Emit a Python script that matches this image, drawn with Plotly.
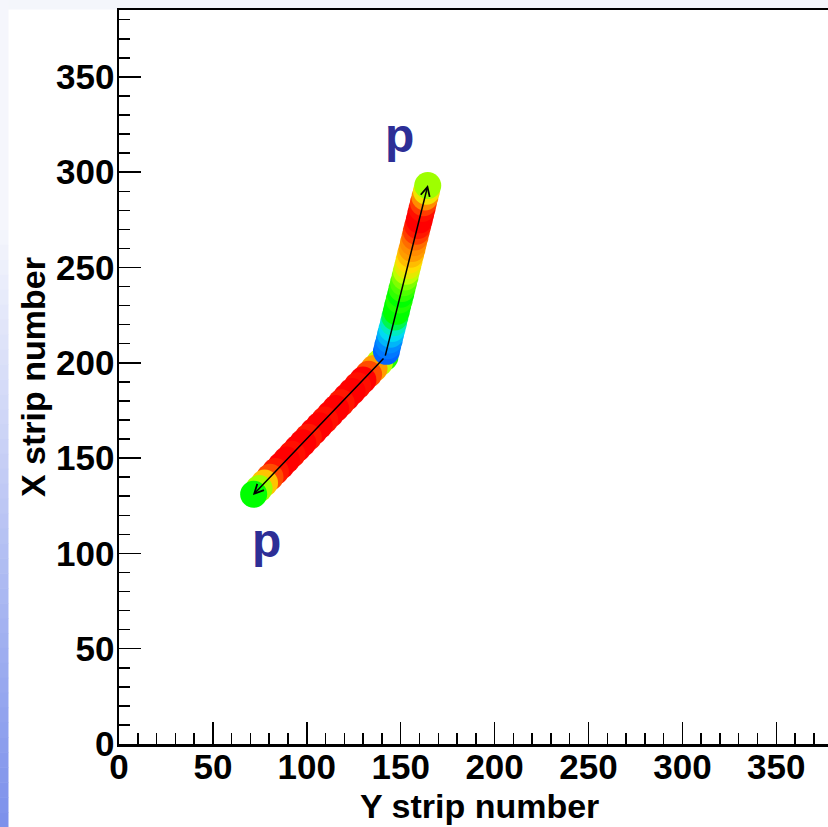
import plotly.graph_objects as go

# ---- data: track hits (Y strip, X strip, relative charge) ----
low_y_strip = [141.6, 138.7, 135.8, 132.9, 129.9, 127.0, 124.1, 121.2, 118.3, 115.4,
               112.5, 109.6, 106.6, 103.7, 100.8, 97.9, 95.0, 92.1, 89.2, 86.3,
               83.3, 80.4, 77.5, 74.6, 71.7]
low_x_strip = [203, 200, 197, 194, 191, 188, 185, 182, 179, 176,
               173, 170, 167, 164, 161, 158, 155, 152, 149, 146,
               143, 140, 137, 134, 131]
low_charge = [0.52, 0.62, 0.8, 0.9, 1.0, 0.98, 1.0, 1.0, 0.97, 1.0,
              1.0, 0.98, 1.0, 1.0, 0.97, 1.0, 1.0, 0.98, 1.0, 1.0,
              0.97, 0.9, 0.75, 0.6, 0.5]

up_y_strip = [142.4, 143.1, 143.9, 144.6, 145.4, 146.2, 146.9, 147.7, 148.4, 149.2,
              150.0, 150.7, 151.5, 152.3, 153.0, 153.8, 154.5, 155.3, 156.1, 156.8,
              157.6, 158.3, 159.1, 159.9, 160.6, 161.4, 162.1, 162.9, 163.7, 164.4]
up_x_strip = [206, 209, 212, 215, 218, 221, 224, 227, 230, 233,
              236, 239, 242, 245, 248, 251, 254, 257, 260, 263,
              266, 269, 272, 275, 278, 281, 284, 287, 290, 293]
up_charge = [0.1, 0.15, 0.2, 0.27, 0.33, 0.38, 0.45, 0.5, 0.5, 0.52,
             0.5, 0.53, 0.55, 0.58, 0.62, 0.68, 0.72, 0.76, 0.8, 0.82,
             0.86, 0.92, 0.97, 1.0, 1.0, 0.98, 0.92, 0.82, 0.7, 0.6]

# fitted track: end points and vertex
vertex = (141.6, 203.0)
track_ends = [(71.3, 130.6), (164.5, 293.3)]

# particle labels
label_text = ["p", "p"]
label_y_strip = [149.6, 78.3]
label_x_strip = [319.5, 107.0]

x_ticks = [0, 50, 100, 150, 200, 250, 300, 350]
y_ticks = [0, 50, 100, 150, 200, 250, 300, 350]

# ---- style ----
colorscale = [
    [0.0, "rgb(0,60,255)"],
    [0.2, "rgb(0,140,255)"],
    [0.35, "rgb(0,230,240)"],
    [0.5, "rgb(0,255,0)"],
    [0.62, "rgb(190,255,0)"],
    [0.72, "rgb(255,220,0)"],
    [0.82, "rgb(255,140,0)"],
    [0.92, "rgb(255,60,0)"],
    [1.0, "rgb(255,0,0)"],
]
MSIZE = 27
FONT = "Liberation Sans"

fig = go.Figure()
for xs, ys, cs in [(low_y_strip, low_x_strip, low_charge), (up_y_strip, up_x_strip, up_charge)]:
    fig.add_trace(go.Scatter(
        x=xs, y=ys, mode="markers",
        marker=dict(size=MSIZE, color=cs, colorscale=colorscale, cmin=0, cmax=1,
                    line=dict(width=0), symbol="circle"),
        hoverinfo="skip", showlegend=False,
    ))

# fitted track arrows (from vertex to each end)
for ex, ey in track_ends:
    fig.add_annotation(x=ex, y=ey, ax=vertex[0], ay=vertex[1],
                       xref="x", yref="y", axref="x", ayref="y",
                       showarrow=True, arrowhead=5, arrowsize=1.2, arrowwidth=1.5,
                       arrowcolor="black", text="")

for t, xx, yy in zip(label_text, label_y_strip, label_x_strip):
    fig.add_annotation(x=xx, y=yy, xref="x", yref="y", text=t, showarrow=False,
                       font=dict(family=FONT, size=48, color="#2d2e96", weight="bold"))

# axis titles
fig.add_annotation(x=0.508, y=0, xref="paper", yref="paper", text="Y strip number",
                   showarrow=False, yanchor="middle", yshift=-62,
                   font=dict(family=FONT, size=34, color="black", weight="bold"))
fig.add_annotation(x=0, y=0.5, xref="paper", yref="paper", text="X strip number",
                   showarrow=False, textangle=-90, xanchor="center", xshift=-86,
                   font=dict(family=FONT, size=34, color="black", weight="bold"))

# background decoration (slide background strips)
W, L, T, B = 709.0, 119.0, 10.0, 744.0
def px_x(p):
    return (p - L) / W
def px_y(p):
    return (B - p) / (B - T)

shapes = []
shapes.append(dict(type="rect", xref="paper", yref="paper", x0=px_x(0), x1=px_x(828),
                   y0=px_y(0), y1=px_y(9.5), fillcolor="#f4f6fb", line=dict(width=0), layer="below"))
top_c = (245, 246, 252)
bot_c = (123, 144, 235)
nb = 40
y_start = 230.0
shapes.append(dict(type="rect", xref="paper", yref="paper", x0=px_x(0), x1=px_x(8.5),
                   y0=px_y(0), y1=px_y(y_start), fillcolor="rgb(%d,%d,%d)" % top_c,
                   line=dict(width=0), layer="below"))
for i in range(nb):
    y0 = y_start + (827 - y_start) * i / nb
    y1 = y_start + (827 - y_start) * (i + 1) / nb
    f = (i + 0.5) / nb
    c = tuple(int(round(top_c[k] + (bot_c[k] - top_c[k]) * f)) for k in range(3))
    shapes.append(dict(type="rect", xref="paper", yref="paper", x0=px_x(0), x1=px_x(8.5),
                       y0=px_y(y0), y1=px_y(y1 + 0.5), fillcolor="rgb(%d,%d,%d)" % c,
                       line=dict(width=0), layer="below"))

axis_common = dict(
    showgrid=False, zeroline=False, showline=True, linecolor="black", linewidth=2.5,
    ticks="inside", ticklen=22, tickwidth=1.5, tickcolor="black",
    minor=dict(dtick=10, ticks="inside", ticklen=11, tickwidth=1.5, tickcolor="black", showgrid=False),
    tickfont=dict(family=FONT, size=35, color="black", weight="bold"),
)

fig.update_layout(
    width=828, height=827,
    margin=dict(l=119, r=0, t=10, b=83, pad=0),
    paper_bgcolor="white", plot_bgcolor="white",
    xaxis=dict(range=[0, 709 / 1.878], tickvals=x_ticks, ticktext=[str(v) for v in x_ticks],
               mirror=True, ticklabelstandoff=-10, **axis_common),
    yaxis=dict(range=[0, 734 / 1.906], tickvals=y_ticks, ticktext=[str(v) for v in y_ticks],
               ticklabelstandoff=-5, **axis_common),
    shapes=shapes,
    showlegend=False,
)

fig.write_html("out.html", config={"displayModeBar": False, "staticPlot": True},
               post_script="document.body.style.margin='0';document.body.style.overflow='hidden';")
